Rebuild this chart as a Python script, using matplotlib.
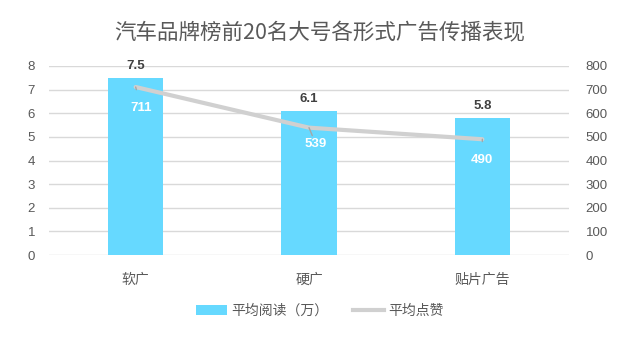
import matplotlib
matplotlib.use("Agg")
import matplotlib.pyplot as plt
from matplotlib.lines import Line2D
from matplotlib.patches import Patch

plt.rcParams['font.family'] = ['Liberation Sans', 'Noto Sans CJK SC', 'DejaVu Sans']

categories = ['软广', '硬广', '贴片广告']
avg_read = [7.5, 6.1, 5.8]
avg_like = [711, 539, 490]
left_ticks = [0, 1, 2, 3, 4, 5, 6, 7, 8]
right_ticks = [0, 100, 200, 300, 400, 500, 600, 700, 800]
title = '汽车品牌榜前20名大号各形式广告传播表现'
legend_labels = ['平均阅读（万）', '平均点赞']

bar_color = '#66D9FF'
line_color = '#D0D0D0'
text_gray = '#595959'
grid_color = '#D9D9D9'
cjk = ['Noto Sans CJK SC', 'DejaVu Sans']

W, H = 640, 347
fig = plt.figure(figsize=(W / 100, H / 100), dpi=100)
ax = fig.add_axes([49 / W, 1 - 255 / H, (569 - 49) / W, (255 - 66) / H])
ax2 = ax.twinx()

x = list(range(len(categories)))
ax.bar(x, avg_read, width=0.32, color=bar_color, zorder=2)
ax.set_xlim(-0.5, len(categories) - 0.5)
ax.set_ylim(0, 8)
ax.set_yticks(left_ticks)
ax.set_xticks(x)
ax.set_xticklabels(categories, fontfamily=cjk, fontsize=10)

ax2.plot(x, avg_like, color=line_color, lw=3, zorder=3, solid_capstyle='round')
ax2.set_ylim(0, 800)
ax2.set_yticks(right_ticks)

for a in (ax, ax2):
    for s in a.spines.values():
        s.set_visible(False)
    a.tick_params(length=0, labelsize=9.5, colors=text_gray)
ax.tick_params(axis='y', pad=10)
ax2.tick_params(axis='y', pad=12)
ax.tick_params(axis='x', pad=13, labelsize=10)
ax.yaxis.grid(True, color=grid_color, lw=1, zorder=0)
ax.set_axisbelow(True)

for xi, v in zip(x, avg_read):
    ax.annotate(f'{v}', (xi, v), xytext=(0, 4), textcoords='offset points',
                ha='center', va='bottom', fontsize=9.5, fontweight='bold', color='#404040')

offsets = [(4, -15), (5, -12), (0, -15)]
for xi, v, off in zip(x, avg_like, offsets):
    ax2.annotate(f'{v}', (xi, v), xytext=off, textcoords='offset points',
                 ha='center', va='center', fontsize=9.5, fontweight='bold', color='white',
                 arrowprops=dict(arrowstyle='-', color='#A6A6A6', lw=1, shrinkA=7, shrinkB=0))

fig.text(0.5, 1 - 33 / H, title, ha='center', va='center', fontsize=15.5,
         color=text_gray, fontfamily=cjk)

handles = [Patch(facecolor=bar_color, edgecolor='none'),
           Line2D([0], [0], color=line_color, lw=3)]
leg = fig.legend(handles, legend_labels, loc='center', bbox_to_anchor=(0.5, 1 - 311 / H),
                 ncol=2, frameon=False, fontsize=10, labelcolor=text_gray,
                 handlelength=2.2, handleheight=0.7, columnspacing=1.8, handletextpad=0.3,
                 prop={'family': cjk, 'size': 10})

fig.savefig('out.png', dpi=100)
